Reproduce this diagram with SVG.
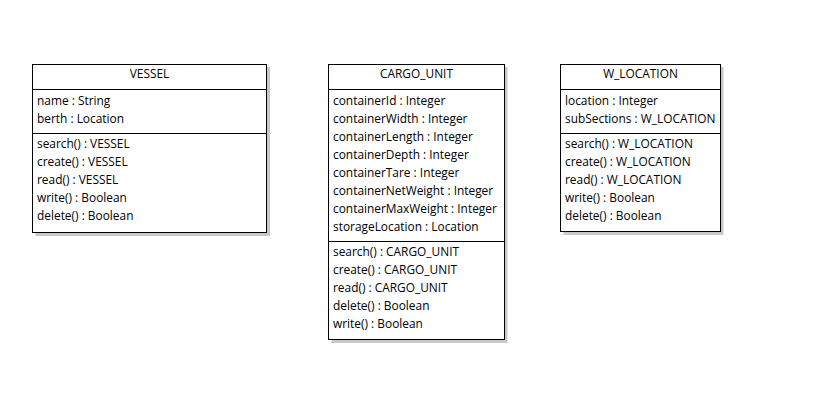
<svg xmlns="http://www.w3.org/2000/svg" width="816" height="404" viewBox="0 0 816 404">
<style>
.shadow{fill:#c8c8c8;}
.box{fill:#fff;stroke:#000;stroke-width:1;}
.div{stroke:#000;stroke-width:1;}
text{font-family:"Open Sans","DejaVu Sans",sans-serif;font-size:11.9px;fill:#000;}
.title{text-anchor:middle;}
</style>
<rect width="816" height="404" fill="#fff"/>
<g id="vessel">
<rect class="shadow" x="35.5" y="67" width="234.5" height="169"/>
<rect class="box" x="32.5" y="64.5" width="234" height="168"/>
<line class="div" x1="32.5" y1="89.5" x2="266.5" y2="89.5"/>
<line class="div" x1="32.5" y1="133.5" x2="266.5" y2="133.5"/>
<text class="title" x="149.5" y="78">VESSEL</text>
<text x="37" y="104.5">name : String</text>
<text x="37" y="122.5">berth : Location</text>
<text x="37" y="147.5">search() : VESSEL</text>
<text x="37" y="165.5">create() : VESSEL</text>
<text x="37" y="183.5">read() : VESSEL</text>
<text x="37" y="201.5">write() : Boolean</text>
<text x="37" y="219.5">delete() : Boolean</text>
</g>
<g id="cargo_unit">
<rect class="shadow" x="331.5" y="67" width="176" height="276"/>
<rect class="box" x="328.5" y="64.5" width="176" height="275"/>
<line class="div" x1="328.5" y1="89.5" x2="504.5" y2="89.5"/>
<line class="div" x1="328.5" y1="241.5" x2="504.5" y2="241.5"/>
<text class="title" x="416.5" y="78">CARGO_UNIT</text>
<text x="333" y="104.5">containerId : Integer</text>
<text x="333" y="122.5">containerWidth : Integer</text>
<text x="333" y="140.5">containerLength : Integer</text>
<text x="333" y="158.5">containerDepth : Integer</text>
<text x="333" y="176.5">containerTare : Integer</text>
<text x="333" y="194.5">containerNetWeight : Integer</text>
<text x="333" y="212.5">containerMaxWeight : Integer</text>
<text x="333" y="230.5">storageLocation : Location</text>
<text x="333" y="255.5">search() : CARGO_UNIT</text>
<text x="333" y="273.5">create() : CARGO_UNIT</text>
<text x="333" y="291.5">read() : CARGO_UNIT</text>
<text x="333" y="309.5">delete() : Boolean</text>
<text x="333" y="327.5">write() : Boolean</text>
</g>
<g id="w_location">
<rect class="shadow" x="563.5" y="67" width="160" height="168"/>
<rect class="box" x="560.5" y="64.5" width="160" height="167"/>
<line class="div" x1="560.5" y1="89.5" x2="720.5" y2="89.5"/>
<line class="div" x1="560.5" y1="133.5" x2="720.5" y2="133.5"/>
<text class="title" x="640.5" y="78">W_LOCATION</text>
<text x="565" y="104.5">location : Integer</text>
<text x="565" y="122.5">subSections : W_LOCATION</text>
<text x="565" y="147.5">search() : W_LOCATION</text>
<text x="565" y="165.5">create() : W_LOCATION</text>
<text x="565" y="183.5">read() : W_LOCATION</text>
<text x="565" y="201.5">write() : Boolean</text>
<text x="565" y="219.5">delete() : Boolean</text>
</g>
<g id="connectors"></g>
</svg>
